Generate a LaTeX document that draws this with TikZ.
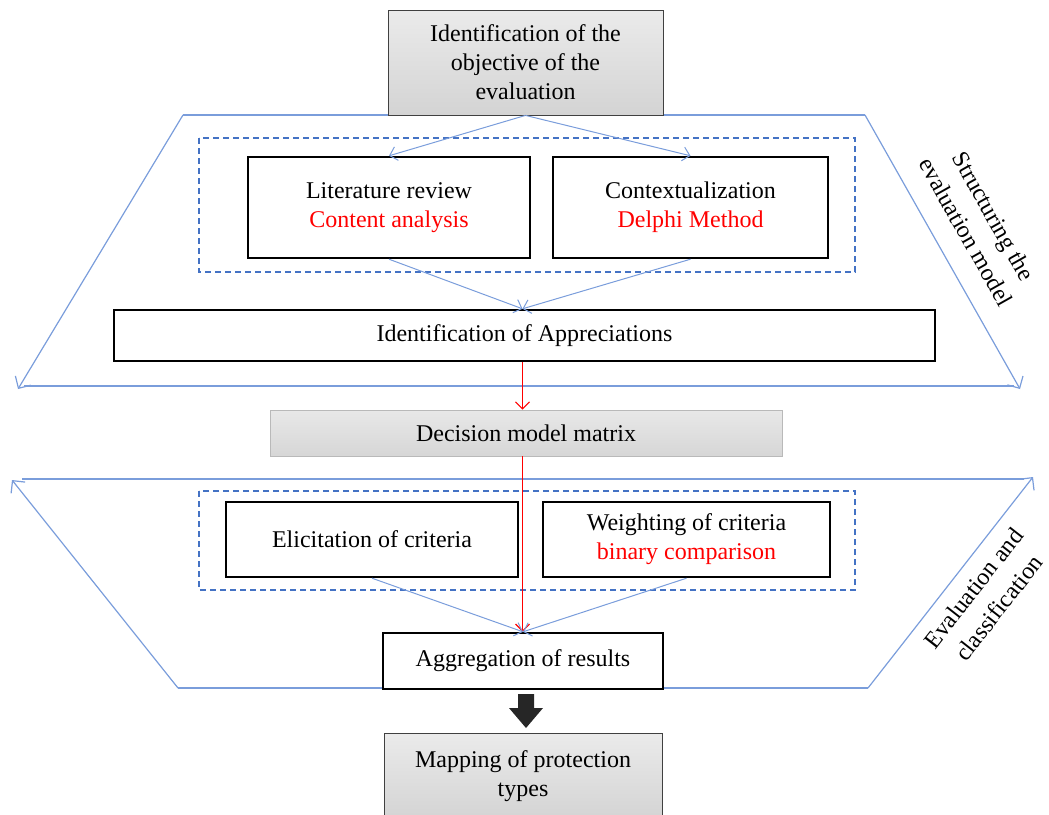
\documentclass[tikz,border=0pt]{standalone}
\usepackage{fontspec}
\setmainfont{Liberation Serif}
\usetikzlibrary{arrows.meta,calc}
\definecolor{lblue}{HTML}{7A9DDB}
\definecolor{dblue}{HTML}{4472C4}
\begin{document}
\begin{tikzpicture}[x=1pt,y=-1pt,
  font=\fontsize{24}{29}\selectfont,
  blk/.style={draw=black, line width=2.4pt, fill=white, align=center, inner sep=0pt},
  gbox/.style={draw=black!75, line width=0.8pt, top color=gray!16, bottom color=gray!34, align=center, inner sep=0pt},
  lgbox/.style={draw=gray!55, line width=0.8pt, top color=gray!18, bottom color=gray!32, align=center, inner sep=0pt},
  conn/.style={draw=lblue, line width=1pt, -{Straight Barb[length=7pt,width=14pt]}},
  rconn/.style={draw=red, line width=1.1pt, -{Straight Barb[length=7pt,width=14pt]}},
  framel/.style={draw=lblue, line width=1.2pt},
  framea/.style={draw=lblue, line width=1.2pt, -{Straight Barb[length=9pt,width=18pt]}},
  dbox/.style={draw=dblue, line width=1.5pt, dash pattern=on 6pt off 4pt},
  sidelabel/.style={align=center, inner sep=0pt, font=\fontsize{24}{32}\selectfont}
]
\clip (0,0) rectangle (1049,814);

% upper frame
\draw[framel] (183,115) -- (865,115);
\draw[framel] (24,386) -- (1014,386);
\draw[framea] (183,115) -- (18,389);
\draw[framea] (865,115) -- (1020,389);

% lower frame
\draw[framel] (22,479) -- (1024,479);
\draw[framel] (178,688) -- (868,688);
\draw[framea] (178,688) -- (12,480);
\draw[framea] (868,688) -- (1033,477);

% dashed groups
\draw[dbox] (199,138) rectangle (855,272);
\draw[dbox] (199,491) rectangle (855,590);

% nodes
\node[gbox, minimum width=275, minimum height=105] (top) at (525.5,62.5)
  {Identification of the\\objective of the\\evaluation};
\node[blk, minimum width=282, minimum height=101] (lit) at (389,207.5)
  {Literature review\\\textcolor{red}{Content analysis}};
\node[blk, minimum width=275, minimum height=101] (ctx) at (690.5,207.5)
  {Contextualization\\\textcolor{red}{Delphi Method}};
\node[blk, minimum width=821, minimum height=51] (app) at (524.5,335.5)
  {Identification of Appreciations};
\node[lgbox, minimum width=512, minimum height=46] (dec) at (526,433)
  {Decision model matrix};
\node[blk, minimum width=292, minimum height=75] (eli) at (372,539.5)
  {Elicitation of criteria};
\node[blk, minimum width=287, minimum height=75] (wei) at (686.5,539.5)
  {Weighting of criteria\\\textcolor{red}{binary comparison}};
\node[blk, minimum width=280, minimum height=56] (agg) at (523,661)
  {Aggregation of results};
\node[gbox, minimum width=278, minimum height=86] (map) at (523,776)
  {Mapping of protection\\types};

% side labels
\node[sidelabel, rotate=-60.5] (lab1) at (980,224) {Structuring the\\evaluation model};
\node[sidelabel, rotate=52] (lab2) at (986,598) {Evaluation and\\classification};

% connectors
\draw[conn] (top.south) -- (lit.north);
\draw[conn] (top.south) -- (ctx.north);
\draw[conn] (lit.south) -- ($(app.north)+(-2,0)$);
\draw[conn] (ctx.south) -- ($(app.north)+(-2,0)$);
\draw[rconn] ($(app.south)+(-2,0)$) -- ($(app.south |- dec.north)+(-2,0)$);
\draw[rconn] ($(dec.south -| agg.north)+(-0.5,0)$) -- ($(agg.north)+(-0.5,0)$);
\draw[conn] (eli.south) -- (agg.north);
\draw[conn] (wei.south) -- (agg.north);

% block arrow
\fill[black!85] (518,694) -- (534,694) -- (534,708) -- (543,708) -- (526,728)
  -- (509,708) -- (518,708) -- cycle;
\end{tikzpicture}
\end{document}
